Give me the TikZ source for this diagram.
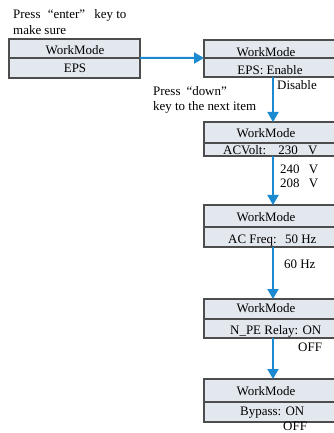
\documentclass[tikz,border=0pt]{standalone}
\usepackage{fontspec}
\setmainfont{Liberation Serif}
\usetikzlibrary{arrows.meta}
\definecolor{boxfill}{HTML}{E3E7EE}
\definecolor{boxline}{HTML}{4D4D4D}
\definecolor{arrowblue}{HTML}{1C8AD0}
\begin{document}
\begin{tikzpicture}[x=1bp,y=-1bp,
  cell/.style={draw=boxline, fill=boxfill, line width=1.1bp, inner sep=0pt, outer sep=0pt, anchor=north west},
  lbl/.style={inner sep=0pt, font=\fontsize{13}{15}\selectfont},
  lblw/.style={lbl, anchor=west},
  flow/.style={draw=arrowblue, line width=2bp, -{Triangle[length=10bp,width=11bp]}}]
\useasboundingbox (0,0) rectangle (333,433);
\coordinate (ax) at (273,0);
% boxes
\node[cell, minimum width=131bp, minimum height=19bp] (b1t) at (9,39) {};
\node[cell, minimum width=131bp, minimum height=20bp] (b1b) at (9,58) {};
\node[cell, minimum width=141bp, minimum height=18bp] (b2t) at (204,40) {};
\node[cell, minimum width=141bp, minimum height=19bp] (b2b) at (204,58) {};
\node[cell, minimum width=141bp, minimum height=21bp] (b3t) at (204,122) {};
\node[cell, minimum width=141bp, minimum height=13bp] (b3b) at (204,143) {};
\node[cell, minimum width=141bp, minimum height=22bp] (b4t) at (204,205) {};
\node[cell, minimum width=141bp, minimum height=20bp] (b4b) at (204,227) {};
\node[cell, minimum width=141bp, minimum height=20bp] (b5t) at (204,299) {};
\node[cell, minimum width=141bp, minimum height=19bp] (b5b) at (204,319) {};
\node[cell, minimum width=141bp, minimum height=23bp] (b6t) at (204,379) {};
\node[cell, minimum width=141bp, minimum height=20bp] (b6b) at (204,402) {};
% texts
\node[lblw] (n1) at (13,15) {Press\hspace{4bp} “enter”\hspace{6bp} key to};
\node[lblw] (n2) at (13,30) {make sure};
\node[lbl] (w1) at (75,50) {WorkMode};
\node[lbl] (v1) at (75,68) {EPS};
\node[lbl] (w2) at (266,52) {WorkMode};
\node[lbl] (v2) at (270,70) {EPS: Enable};
\node[lblw] (o2) at (277,85) {Disable};
\node[lblw] (n3) at (153,91) {Press\hspace{6bp}“down”};
\node[lblw] (n4) at (153,107) {key to the next item};
\node[lbl] (w3) at (266,133) {WorkMode};
\node[lblw] (v3) at (223,150) {ACVolt:\hspace{8bp} 230\hspace{7bp} V};
\node[lblw] (o3a) at (280,169) {240\hspace{6bp} V};
\node[lblw] (o3b) at (280,183) {208\hspace{6bp} V};
\node[lbl] (w4) at (266,217) {WorkMode};
\node[lblw] (v4) at (228,241) {AC Freq:\hspace{4bp} 50 Hz};
\node[lblw] (o4) at (284,264) {60 Hz};
\node[lbl] (w5) at (266,308) {WorkMode};
\node[lblw] (v5) at (230,331) {N\_PE Relay: ON};
\node[lblw] (o5) at (298,347) {OFF};
\node[lbl] (w6) at (266,391) {WorkMode};
\node[lblw] (v6) at (240,413) {Bypass: ON};
\node[lblw] (o6) at (283,426) {OFF};
% connectors
\draw[flow] (b1t.south east) -- (b2t.south west);
\draw[flow] (b2b.south -| ax) -- (b3t.north -| ax);
\draw[flow] (b3b.south -| ax) -- (b4t.north -| ax);
\draw[flow] (b4b.south -| ax) -- (b5t.north -| ax);
\draw[flow] (b5b.south -| ax) -- (b6t.north -| ax);
\end{tikzpicture}
\end{document}
